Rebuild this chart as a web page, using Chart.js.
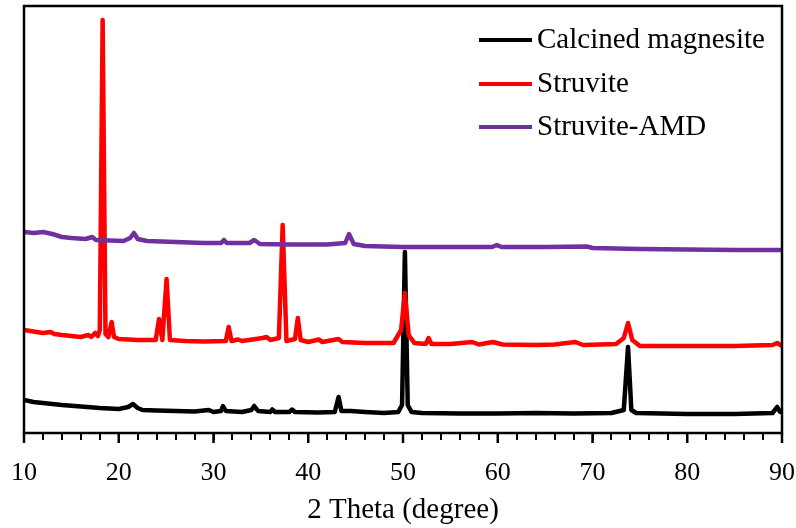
<!DOCTYPE html>
<html>
<head>
<meta charset="utf-8">
<script src="https://cdn.jsdelivr.net/npm/chart.js@4.4.1/dist/chart.umd.min.js"></script>
<style>
  html, body { margin: 0; padding: 0; background: #fff; }
  #wrap { width: 796px; height: 528px; }
</style>
</head>
<body>
<div id="wrap"><canvas id="xrd" width="796" height="528"></canvas></div>
<script>
// 2 theta (degree) and intensity (a.u., offset traces)
const magnesiteX = [10, 11, 12, 14, 16, 18, 20, 21, 21.5, 22, 22.5, 24, 26, 28, 29.5, 30, 30.8, 31, 31.3, 33, 34, 34.3, 34.7, 36, 36.2, 36.5, 38, 38.3, 38.6, 41, 42.8, 43.2, 43.5, 44.5, 46, 48, 49.5, 49.9, 50.2, 50.5, 50.9, 52, 56, 60, 64, 68, 72, 73.3, 73.75, 74.1, 74.6, 80, 85, 89, 89.5, 89.8, 90]
const magnesiteY = [33, 31, 30, 28, 26.5, 25, 24, 26, 29, 25, 23, 22.5, 22, 21.5, 23, 21, 22, 27, 22, 21, 23, 27, 22, 21, 23.5, 21, 21, 23.5, 21, 20.5, 21, 36, 22, 22, 21, 20, 21, 28, 181, 28, 21, 20, 19.5, 19.5, 20, 19.5, 20, 23, 86, 23, 20, 19, 19, 20, 26, 21, 21]

const struviteX = [10, 11, 12, 12.8, 13.2, 14, 15, 16, 16.8, 17.1, 17.5, 17.8, 18, 18.3, 18.6, 18.9, 19.25, 19.5, 20, 22, 23.9, 24.25, 24.6, 25.05, 25.4, 27, 29, 31.3, 31.6, 31.9, 32.6, 33, 35.2, 35.6, 36, 36.9, 37.3, 37.7, 38.6, 38.9, 39.2, 40, 41.1, 41.5, 43.2, 43.6, 46, 49, 49.8, 50.2, 50.6, 51.2, 52.4, 52.7, 53, 55, 57.3, 58, 59.5, 60.5, 64, 66, 68.2, 69, 72.5, 73.3, 73.75, 74.2, 75, 80, 85, 89, 89.5, 90]
const struviteY = [103, 101.5, 100, 101, 99, 98, 97, 96, 98, 96, 100, 97, 103, 413, 99, 96, 111, 96, 94, 93, 93, 114, 93, 154, 93, 92, 91.5, 92, 106, 92, 93.5, 92, 95, 96, 93, 95, 208, 92, 94, 115, 93, 91, 93.5, 91, 94, 91, 90, 90, 103, 140, 98, 90, 89, 95, 89, 89, 91, 88.5, 91, 88.5, 88, 88.5, 91, 88, 89, 95, 110, 93, 87, 87, 87, 88, 90, 87]

const amdX = [10, 11, 12, 13, 14, 15, 16.5, 17.2, 17.6, 19, 20.5, 21.2, 21.6, 22, 23, 26, 29, 30.8, 31.1, 31.4, 33.8, 34.3, 34.9, 38, 42, 43.9, 44.3, 44.8, 46, 50, 55, 59.4, 59.9, 60.4, 65, 69.4, 70, 75, 80, 85, 90]
const amdY = [201, 200, 201, 199, 196, 195, 194, 196, 193, 192.5, 192, 195, 200, 194, 192, 191, 190, 190, 193, 190, 190, 193, 189, 188.5, 188.5, 190, 199, 189, 187, 186, 186, 186, 188, 186, 186, 186.5, 185, 184, 183.5, 183, 183]

const seriesNames = ['Calcined magnesite', 'Struvite', 'Struvite-AMD']
const seriesColors = ['#000000', '#ff0000', '#7030a0']
const xTicks = [10, 20, 30, 40, 50, 60, 70, 80, 90]

const serif = '"Liberation Serif", "Times New Roman", serif'

function toPoints(xs, ys) {
  return xs.map((x, i) => ({ x: x, y: ys[i] }))
}

// frame round the plot, longer major ticks, and the legend inside the plot
const framePlugin = {
  id: 'frame',
  afterDatasetsDraw(chart) {
    const ctx = chart.ctx
    const a = chart.chartArea
    const xs = chart.scales.x
    ctx.save()
    ctx.strokeStyle = '#000'
    ctx.lineWidth = 2.5
    ctx.strokeRect(a.left, a.top, a.right - a.left, a.bottom - a.top)

    xTicks.forEach(v => {
      const px = xs.getPixelForValue(v)
      ctx.beginPath()
      ctx.moveTo(px, a.bottom)
      ctx.lineTo(px, a.bottom + 10)
      ctx.stroke()
    })

    const rows = [40, 84, 127]
    ctx.font = '29px ' + serif
    ctx.textBaseline = 'alphabetic'
    ctx.textAlign = 'left'
    chart.data.datasets.forEach((ds, i) => {
      ctx.strokeStyle = ds.borderColor
      ctx.lineWidth = 4
      ctx.beginPath()
      ctx.moveTo(479, rows[i])
      ctx.lineTo(532, rows[i])
      ctx.stroke()
      ctx.fillStyle = '#000'
      ctx.fillText(ds.label, 537, rows[i] + 8)
    })
    ctx.restore()
  }
}

const chart = new Chart(document.getElementById('xrd'), {
  type: 'line',
  data: {
    datasets: [
      { label: seriesNames[0], data: toPoints(magnesiteX, magnesiteY), borderColor: seriesColors[0], order: 3 },
      { label: seriesNames[1], data: toPoints(struviteX, struviteY), borderColor: seriesColors[1], order: 2 },
      { label: seriesNames[2], data: toPoints(amdX, amdY), borderColor: seriesColors[2], order: 1 }
    ]
  },
  options: {
    responsive: false,
    animation: false,
    events: [],
    layout: { padding: { left: 24, right: 14, top: 6, bottom: 0 } },
    elements: {
      point: { radius: 0 },
      line: { borderWidth: 4.5, tension: 0, borderJoinStyle: 'round', borderCapStyle: 'round' }
    },
    plugins: {
      legend: { display: false },
      tooltip: { enabled: false }
    },
    scales: {
      x: {
        type: 'linear',
        min: 10,
        max: 90,
        afterFit(scale) {
          scale.height = 95
          scale.paddingLeft = 0
          scale.paddingRight = 0
        },
        afterBuildTicks(scale) {
          const t = []
          for (let v = 10; v <= 90; v += 2) t.push({ value: v })
          scale.ticks = t
        },
        border: { display: false },
        grid: {
          drawOnChartArea: false,
          drawTicks: true,
          tickLength: 7,
          color: '#000',
          lineWidth: 2
        },
        ticks: {
          autoSkip: false,
          maxRotation: 0,
          padding: 18,
          color: '#000',
          font: { family: serif, size: 26 },
          callback: (v) => xTicks.includes(v) ? String(v) : ''
        },
        title: {
          display: true,
          text: '2 Theta (degree)',
          color: '#000',
          font: { family: serif, size: 29 },
          padding: { top: 0, bottom: 0 }
        }
      },
      y: {
        display: false,
        min: 0,
        max: 427
      }
    }
  },
  plugins: [framePlugin]
})
</script>
</body>
</html>
